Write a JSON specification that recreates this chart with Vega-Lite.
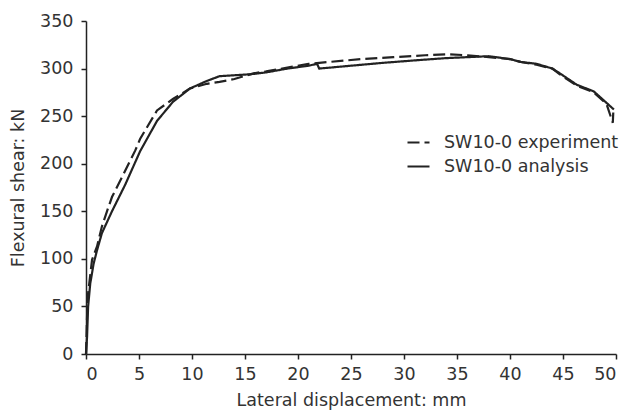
{
  "$schema": "https://vega.github.io/schema/vega-lite/v6.json",
  "width": 530,
  "height": 333,
  "autosize": {"type": "none"},
  "padding": {"left": 86, "top": 21, "right": 15, "bottom": 58},
  "background": "white",
  "config": {
    "font": "DejaVu Sans",
    "view": {"stroke": null},
    "axis": {
      "grid": false,
      "domainColor": "#222",
      "domainWidth": 1.5,
      "tickColor": "#222",
      "tickWidth": 1.5,
      "tickSize": 5,
      "labelFont": "DejaVu Sans",
      "labelFontSize": 17.5,
      "labelColor": "#333",
      "titleFont": "DejaVu Sans",
      "titleFontSize": 17.5,
      "titleFontWeight": "normal",
      "titleColor": "#333"
    },
    "legend": {
      "labelFont": "DejaVu Sans",
      "labelFontSize": 17.5,
      "labelColor": "#333",
      "labelLimit": 400
    }
  },
  "data": {
    "values": [
      {"series": "SW10-0 analysis", "x": 0, "y": 0},
      {"series": "SW10-0 analysis", "x": 0.1, "y": 18},
      {"series": "SW10-0 analysis", "x": 0.2, "y": 50},
      {"series": "SW10-0 analysis", "x": 0.4, "y": 74},
      {"series": "SW10-0 analysis", "x": 0.72, "y": 95},
      {"series": "SW10-0 analysis", "x": 1.04, "y": 109},
      {"series": "SW10-0 analysis", "x": 1.5, "y": 127},
      {"series": "SW10-0 analysis", "x": 2.45, "y": 150},
      {"series": "SW10-0 analysis", "x": 3.7, "y": 178},
      {"series": "SW10-0 analysis", "x": 5.1, "y": 213},
      {"series": "SW10-0 analysis", "x": 6.7, "y": 245},
      {"series": "SW10-0 analysis", "x": 8.2, "y": 265},
      {"series": "SW10-0 analysis", "x": 9.8, "y": 279},
      {"series": "SW10-0 analysis", "x": 11.4, "y": 287},
      {"series": "SW10-0 analysis", "x": 12.6, "y": 292},
      {"series": "SW10-0 analysis", "x": 14, "y": 293},
      {"series": "SW10-0 analysis", "x": 15.5, "y": 294},
      {"series": "SW10-0 analysis", "x": 17, "y": 296},
      {"series": "SW10-0 analysis", "x": 19, "y": 300},
      {"series": "SW10-0 analysis", "x": 21, "y": 303},
      {"series": "SW10-0 analysis", "x": 21.8, "y": 305},
      {"series": "SW10-0 analysis", "x": 22, "y": 300},
      {"series": "SW10-0 analysis", "x": 25, "y": 303},
      {"series": "SW10-0 analysis", "x": 28, "y": 306},
      {"series": "SW10-0 analysis", "x": 31.5, "y": 309},
      {"series": "SW10-0 analysis", "x": 34, "y": 311},
      {"series": "SW10-0 analysis", "x": 36, "y": 312},
      {"series": "SW10-0 analysis", "x": 38, "y": 313},
      {"series": "SW10-0 analysis", "x": 40, "y": 310},
      {"series": "SW10-0 analysis", "x": 41, "y": 307},
      {"series": "SW10-0 analysis", "x": 42.5, "y": 305},
      {"series": "SW10-0 analysis", "x": 44, "y": 300},
      {"series": "SW10-0 analysis", "x": 44.7, "y": 295},
      {"series": "SW10-0 analysis", "x": 46.3, "y": 283},
      {"series": "SW10-0 analysis", "x": 47.9, "y": 276},
      {"series": "SW10-0 analysis", "x": 49.1, "y": 264},
      {"series": "SW10-0 analysis", "x": 49.8, "y": 257},
      {"series": "SW10-0 experiment", "x": 0, "y": 0},
      {"series": "SW10-0 experiment", "x": 0.1, "y": 40},
      {"series": "SW10-0 experiment", "x": 0.2, "y": 64},
      {"series": "SW10-0 experiment", "x": 0.57, "y": 99},
      {"series": "SW10-0 experiment", "x": 1.04, "y": 113},
      {"series": "SW10-0 experiment", "x": 1.5, "y": 134},
      {"series": "SW10-0 experiment", "x": 1.98, "y": 150},
      {"series": "SW10-0 experiment", "x": 2.45, "y": 165},
      {"series": "SW10-0 experiment", "x": 3.4, "y": 186},
      {"series": "SW10-0 experiment", "x": 4.65, "y": 214},
      {"series": "SW10-0 experiment", "x": 5.1, "y": 226},
      {"series": "SW10-0 experiment", "x": 6.7, "y": 256},
      {"series": "SW10-0 experiment", "x": 8.2, "y": 268},
      {"series": "SW10-0 experiment", "x": 9.8, "y": 279},
      {"series": "SW10-0 experiment", "x": 11.4, "y": 284},
      {"series": "SW10-0 experiment", "x": 12.6, "y": 286},
      {"series": "SW10-0 experiment", "x": 14, "y": 289},
      {"series": "SW10-0 experiment", "x": 15.8, "y": 295},
      {"series": "SW10-0 experiment", "x": 17, "y": 297},
      {"series": "SW10-0 experiment", "x": 19, "y": 301},
      {"series": "SW10-0 experiment", "x": 21, "y": 305},
      {"series": "SW10-0 experiment", "x": 23, "y": 307},
      {"series": "SW10-0 experiment", "x": 26, "y": 310},
      {"series": "SW10-0 experiment", "x": 29, "y": 312},
      {"series": "SW10-0 experiment", "x": 32, "y": 314},
      {"series": "SW10-0 experiment", "x": 34, "y": 315},
      {"series": "SW10-0 experiment", "x": 36, "y": 314},
      {"series": "SW10-0 experiment", "x": 38, "y": 312},
      {"series": "SW10-0 experiment", "x": 40, "y": 310},
      {"series": "SW10-0 experiment", "x": 41, "y": 307},
      {"series": "SW10-0 experiment", "x": 42.5, "y": 304},
      {"series": "SW10-0 experiment", "x": 44, "y": 300},
      {"series": "SW10-0 experiment", "x": 44.7, "y": 294},
      {"series": "SW10-0 experiment", "x": 46.3, "y": 282},
      {"series": "SW10-0 experiment", "x": 47.9, "y": 275},
      {"series": "SW10-0 experiment", "x": 49.1, "y": 263},
      {"series": "SW10-0 experiment", "x": 49.75, "y": 256},
      {"series": "SW10-0 experiment", "x": 49.7, "y": 243}
    ]
  },
  "mark": {"type": "line", "strokeWidth": 2.2, "color": "#222", "strokeCap": "butt"},
  "encoding": {
    "x": {
      "field": "x",
      "type": "quantitative",
      "scale": {"domain": [0, 50], "nice": false},
      "axis": {"values": [0, 5, 10, 15, 20, 25, 30, 35, 40, 45, 50], "title": "Lateral displacement: mm", "labelPadding": 6, "titlePadding": 9}
    },
    "y": {
      "field": "y",
      "type": "quantitative",
      "scale": {"domain": [0, 350], "nice": false},
      "axis": {"values": [0, 50, 100, 150, 200, 250, 300, 350], "title": "Flexural shear: kN", "labelPadding": 8, "titlePadding": 12}
    },
    "detail": {"field": "series"},
    "strokeDash": {
      "field": "series",
      "type": "nominal",
      "scale": {"domain": ["SW10-0 experiment", "SW10-0 analysis"], "range": [[12, 5], [1, 0]]},
      "legend": {
        "title": null,
        "orient": "none",
        "legendX": 320,
        "legendY": 109,
        "symbolType": "stroke",
        "symbolSize": 484,
        "symbolStrokeWidth": 2.2,
        "symbolStrokeColor": "#222",
        "rowPadding": 3,
        "labelOffset": 13
      }
    }
  }
}
